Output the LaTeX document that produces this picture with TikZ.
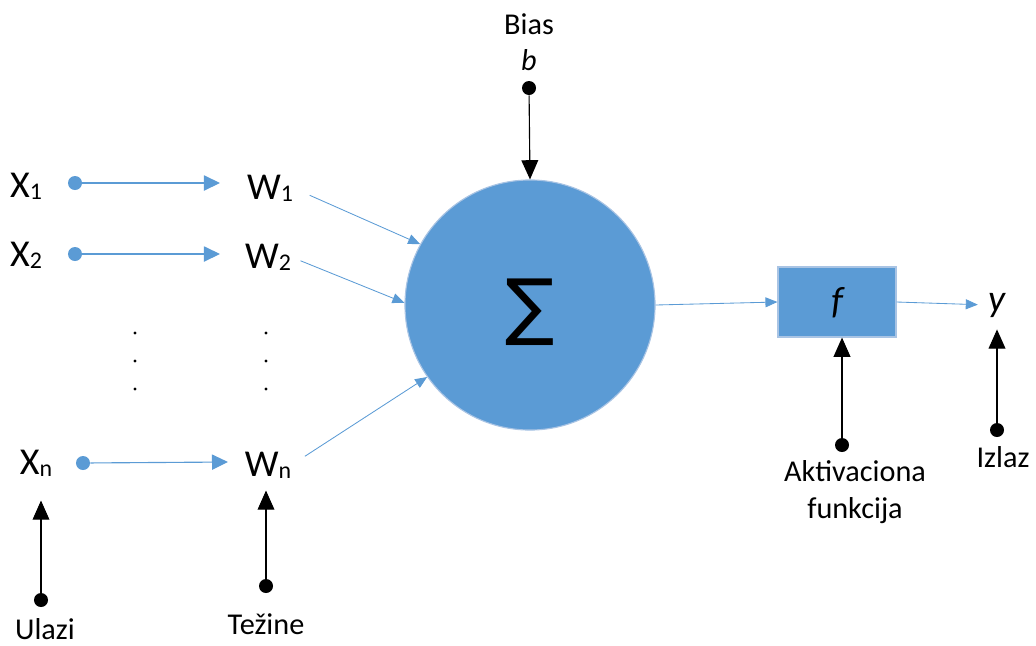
\documentclass[tikz,border=0pt]{standalone}
\usepackage{fontspec}
\setmainfont{Carlito}
\newfontfamily\symfont{DejaVu Sans}
\usetikzlibrary{arrows.meta}
\definecolor{nodeblue}{HTML}{5B9BD5}
\definecolor{rimblue}{HTML}{A9C4E4}
\newcommand{\idx}[1]{{\fontsize{17}{17}\selectfont\raisebox{-1.5pt}{#1}}}

\begin{document}
\begin{tikzpicture}[x=0.025cm, y=-0.025cm,
  big/.style={font=\fontsize{27}{30}\selectfont, inner sep=0pt},
  small/.style={font=\fontsize{21.5}{26}\selectfont, inner sep=0pt, align=center},
  bluedot/.style={circle, fill=nodeblue, inner sep=0pt, minimum size=0.35cm},
  blackdot/.style={circle, fill=black, inner sep=0pt, minimum size=0.35cm},
  bluearrow/.style={draw=nodeblue, line width=0.8pt, -{Triangle[length=0.4cm, width=0.38cm]}},
  thinarrow/.style={draw=nodeblue, line width=0.6pt, -{Triangle[length=0.3cm, width=0.25cm]}},
  blackarrow/.style={draw=black, line width=0.8pt, -{Triangle[length=0.48cm, width=0.42cm]}},
  vdot/.style={circle, fill=black, inner sep=0pt, minimum size=2.2pt}]

\useasboundingbox (0, 0) rectangle (1036, 645);

\node[circle, fill=nodeblue, draw=rimblue, line width=0.8pt, minimum size=6.25cm] (sum) at (530, 305) {};
\node at (530, 312) {\symfont\fontsize{52}{52}\selectfont ∑};
\node[fill=nodeblue, draw=rimblue, line width=0.8pt, minimum width=2.95cm, minimum height=1.75cm] (act) at (837, 302) {};
\node[big] (f) at (838, 303) {\textit{f}};
\node[big] (y) at (997, 305) {\textit{y}};

\node[big] (x1) at (26, 186) {X\idx{1}};
\node[big] (x2) at (26, 255) {X\idx{2}};
\node[big] (xn) at (36, 463) {X\idx{n}};
\node[big] (w1) at (270, 188) {W\idx{1}};
\node[big] (w2) at (268, 257) {W\idx{2}};
\node[big] (wn) at (268, 465) {W\idx{n}};

\node[bluedot] (d1) at (75, 183) {};
\node[bluedot] (d2) at (75, 254) {};
\node[bluedot] (dn) at (83, 463) {};
\coordinate (a1) at (220, 183);
\coordinate (a2) at (220, 254);
\coordinate (an) at (228, 462);

\foreach \i/\yy in {1/333, 2/361, 3/389} {
  \node[vdot] (xdot\i) at (135, \yy) {};
  \node[vdot] (wdot\i) at (266, \yy) {};
}

\node[small] (bias) at (529, 24) {Bias};
\node[small] (b) at (529, 60) {\textit{b}};
\node[blackdot] (bb) at (529, 88) {};

\node[blackdot] (ul) at (41, 600) {};
\node[small] (ulazi) at (45, 629) {Ulazi};
\node[blackdot] (te) at (266, 586) {};
\node[small] (tezine) at (266, 624) {Težine};
\node[blackdot] (ak) at (842, 445) {};
\node[small] (aktiv) at (855, 492) {Aktivaciona\\funkcija};
\node[blackdot] (iz) at (997, 430) {};
\node[small] (izlaz) at (1003, 457) {Izlaz};

\draw[bluearrow] (d1) -- (a1);
\draw[bluearrow] (d2) -- (a2);
\draw[bluearrow] (dn) -- (an);
\draw[thinarrow, shorten <=0.45cm] (w1.east) -- (sum.151);
\draw[thinarrow, shorten <=0.25cm] (w2.east) -- (sum.179);
\draw[thinarrow, shorten <=0.4cm] (wn.east) -- (sum.215);
\draw[thinarrow] (sum.east) -- (act.west);
\draw[thinarrow, shorten >=0.25cm] (act.east) -- (y.west);

\draw[blackarrow] (bb) -- (sum.north);
\draw[blackarrow, shorten >=0.6cm] (ul) -- (ul |- xn.south);
\draw[blackarrow, shorten >=0.3cm] (te) -- (te |- wn.south);
\draw[blackarrow] (ak) -- (ak |- act.south);
\draw[blackarrow, shorten >=0.3cm] (iz) -- (iz |- y.south);

\end{tikzpicture}
\end{document}
